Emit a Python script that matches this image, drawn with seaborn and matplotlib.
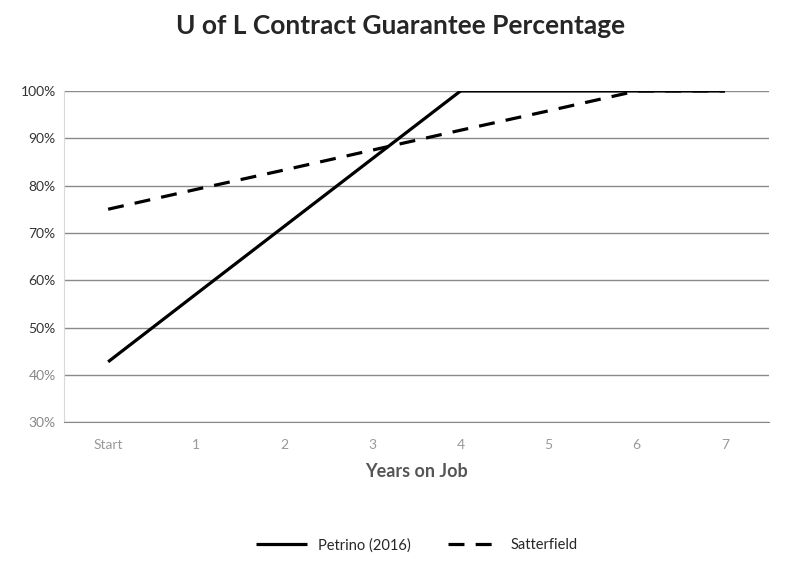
import pandas as pd
import seaborn as sns
import matplotlib.pyplot as plt
from matplotlib.ticker import PercentFormatter

# Pourcentage garanti du contrat selon l'année
years = ["Start", "1", "2", "3", "4", "5", "6", "7"]
petrino = [42.75, 57.1, 71.4, 85.7, 100, 100, 100, 100]
satterfield = [75, 79.2, 83.3, 87.5, 91.7, 95.8, 100, 100]

data = pd.DataFrame({
    "Year": years * 2,
    "Pct": petrino + satterfield,
    "Coach": ["Petrino (2016)"] * len(years) + ["Satterfield"] * len(years),
})

sns.set_style("white")
plt.rcParams["font.family"] = ["Lato", "DejaVu Sans"]

fig = plt.figure(figsize=(8.01, 5.72), dpi=100)
ax = fig.add_axes([0.08, 0.262, 0.88, 0.579])

sns.lineplot(data=data, x="Year", y="Pct", hue="Coach", style="Coach",
             palette=["black", "black"], dashes=[(1, 0), (5, 3.5)],
             linewidth=2.3, sort=False, ax=ax)

ax.set_ylim(30, 100)
ax.set_xlim(-0.5, 7.5)
ax.set_yticks(range(30, 101, 10))
ax.yaxis.set_major_formatter(PercentFormatter(decimals=0))
ax.grid(axis="y", color="#8a8a8a", linewidth=1)
ax.set_axisbelow(True)
for s in ["top", "right"]:
    ax.spines[s].set_visible(False)
ax.spines["left"].set_color("#d9d9d9")
ax.spines["bottom"].set_color("#8a8a8a")
ax.tick_params(axis="y", labelsize=10, colors="#333333", length=0, pad=6)
ax.tick_params(axis="x", labelsize=10, colors="#999999", length=0, pad=12)
for lbl in ax.get_yticklabels()[:2]:
    lbl.set_color("#888888")

ax.set_xlabel("Years on Job", fontsize=13, fontweight="bold", color="#555555", labelpad=9)
ax.set_ylabel("")
fig.suptitle("U of L Contract Guarantee Percentage", fontsize=19, fontweight="bold", y=0.975)

ax.legend(title=None, loc="upper center", bbox_to_anchor=(0.5, -0.31), ncol=2,
          frameon=False, fontsize=10.5, handlelength=3.5, columnspacing=2.5)

fig.savefig("out.png", dpi=100)
